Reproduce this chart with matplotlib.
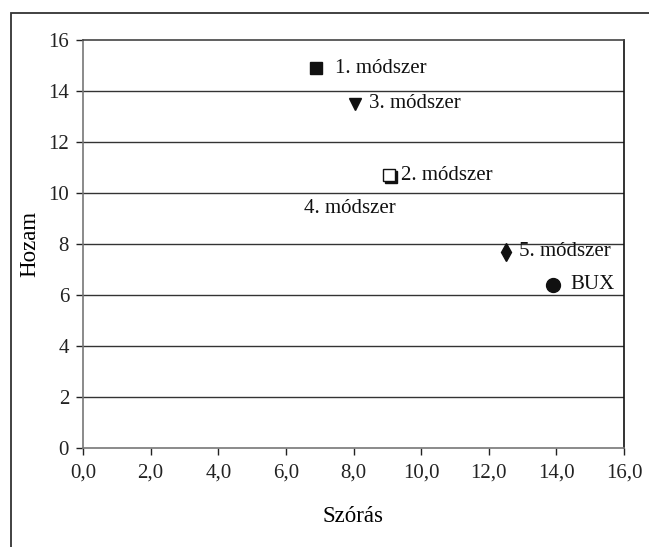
import numpy as np
import matplotlib.pyplot as plt
import matplotlib.transforms as mtransforms
from matplotlib.patches import Rectangle

plt.rcParams["font.family"] = ["Liberation Serif", "DejaVu Serif"]

# data
names = ["1. módszer", "3. módszer", "2. módszer", "4. módszer", "5. módszer", "BUX"]
szoras = [6.9, 8.05, 9.05, 6.1, 12.5, 13.9]
hozam = [14.9, 13.5, 10.7, 9.4, 7.7, 6.4]
markers = ["s", "v", "s", "", "d", "o"]
filled = [True, True, False, True, True, True]
sizes = [9, 9, 8, 0, 9, 10]
offsets = [0.55, 0.42, 0.35, 0.45, 0.4, 0.5]

xticks = np.arange(0, 17, 2)
yticks = np.arange(0, 17, 2)

fig = plt.figure(figsize=(6.49, 5.47), dpi=100)
ax = fig.add_axes([83 / 649, 1 - 448 / 547, (624 - 83) / 649, (448 - 40) / 547])

# outer frame (only left and top visible)
fig.patches.append(Rectangle((11 / 649, -0.1), 1.5, 1.1 - 13 / 547,
                             transform=fig.transFigure, fill=False,
                             edgecolor="#333333", linewidth=1.3))

for y in yticks[1:-1]:
    ax.axhline(y, color="#333333", linewidth=1.0, zorder=1)

shadow = ax.transData + mtransforms.ScaledTranslation(1.2 / 72, -1.2 / 72, fig.dpi_scale_trans)

for i in range(len(names)):
    if markers[i]:
        if not filled[i]:
            ax.plot(szoras[i], hozam[i], marker=markers[i], markersize=sizes[i],
                    color="#111111", linestyle="none", zorder=3, transform=shadow)
        ax.plot(szoras[i], hozam[i], marker=markers[i], markersize=sizes[i],
                color="#111111", markerfacecolor="#111111" if filled[i] else "white",
                markeredgewidth=1.0, linestyle="none", zorder=4)
    ax.text(szoras[i] + offsets[i], hozam[i], names[i], fontsize=15,
            va="center", ha="left", color="#111111")

ax.set_xlim(0, 16)
ax.set_ylim(0, 16)
ax.set_xticks(xticks)
ax.set_xticklabels([("%.1f" % v).replace(".", ",") for v in xticks.astype(float)])
ax.set_yticks(yticks)
ax.tick_params(axis="both", labelsize=15, colors="#222222", length=5, width=1.0)
ax.tick_params(axis="x", pad=6)
ax.tick_params(axis="y", pad=5)

ax.spines["left"].set_color("#777777")
ax.spines["bottom"].set_color("#777777")
ax.spines["top"].set_color("#444444")
ax.spines["right"].set_color("#111111")
for s in ax.spines.values():
    s.set_linewidth(1.2)

ax.set_xlabel("Szórás", fontsize=16.5, labelpad=17)
ax.set_ylabel("Hozam", fontsize=16.5, labelpad=6)

fig.savefig("out.png", dpi=100)
